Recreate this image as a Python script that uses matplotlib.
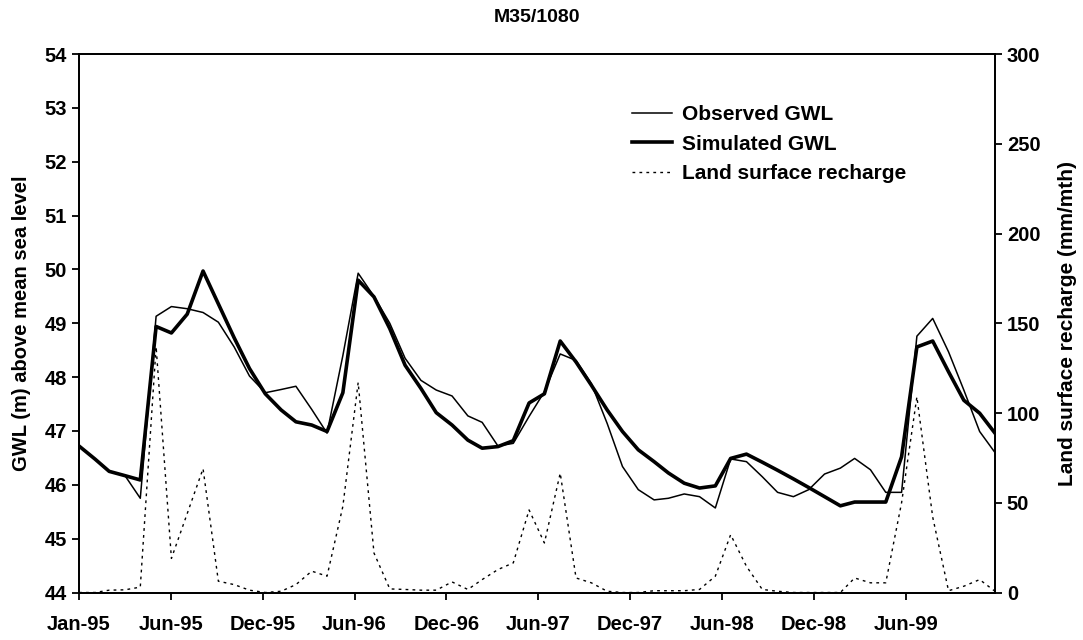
import pandas as pd
import matplotlib
matplotlib.use('Agg')
import matplotlib.pyplot as plt
import matplotlib.dates as mdates

plt.rcParams['font.family'] = ['Liberation Sans', 'DejaVu Sans']
plt.rcParams['font.weight'] = 'bold'

months = pd.date_range('1995-01-01', periods=60, freq='MS')

observed = [46.72, 46.48, 46.25, 46.17, 45.75, 49.13, 49.31, 49.27, 49.20, 49.02, 48.56, 48.02,
            47.71, 47.77, 47.83, 47.40, 46.96, 48.40, 49.93, 49.50, 49.00, 48.35, 47.94, 47.76,
            47.65, 47.28, 47.16, 46.72, 46.77, 47.27, 47.73, 48.43, 48.31, 47.88, 47.14, 46.34,
            45.91, 45.72, 45.75, 45.83, 45.78, 45.57, 46.48, 46.43, 46.15, 45.86, 45.78, 45.91,
            46.20, 46.31, 46.49, 46.28, 45.86, 45.86, 48.76, 49.09, 48.47, 47.76, 46.99, 46.60]

simulated = [46.72, 46.48, 46.25, 46.17, 46.09, 48.94, 48.82, 49.17, 49.97, 49.36, 48.73, 48.16,
             47.69, 47.39, 47.17, 47.11, 46.99, 47.71, 49.80, 49.49, 48.90, 48.22, 47.79, 47.34,
             47.11, 46.83, 46.68, 46.71, 46.82, 47.52, 47.69, 48.67, 48.28, 47.85, 47.39, 46.99,
             46.65, 46.43, 46.22, 46.03, 45.94, 45.98, 46.49, 46.57, 46.42, 46.27, 46.11, 45.95,
             45.78, 45.61, 45.68, 45.68, 45.68, 46.52, 48.56, 48.67, 48.10, 47.57, 47.33, 46.96]

recharge = [0, 0, 1.3, 1.5, 3, 137, 19, 44, 69, 6.3, 4.4, 1.3,
            0, 0.7, 4.4, 11.9, 9.1, 48, 117, 22, 2, 1.7, 1.3, 1.3,
            5.9, 1.7, 7.2, 12.8, 16.5, 46, 27.6, 66.5, 8.1, 5.4, 0.7, 0,
            0, 1, 1, 1, 1.7, 9.1, 32.2, 14.6, 1.7, 0.7, 0, 0,
            0, 0, 8.1, 5.4, 5.4, 50, 109, 42, 1, 3.5, 7.2, 0.7]

# tick marks every 180 days from the start, like the original spreadsheet axis
tick_dates = pd.date_range('1995-01-01', periods=10, freq='180D')

fig = plt.figure(figsize=(10.83, 6.4), dpi=100)
ax = fig.add_axes([0.073, 0.0742, 0.8457, 0.8414])
ax2 = ax.twinx()

l1, = ax.plot(months, observed, color='black', lw=1.1, label='Observed GWL')
l2, = ax.plot(months, simulated, color='black', lw=2.6, label='Simulated GWL')
l3, = ax2.plot(months, recharge, color='black', lw=1.0, linestyle=(0, (2, 3)),
               label='Land surface recharge')

ax.set_xlim(months[0], months[-1])
ax.set_ylim(44, 54)
ax2.set_ylim(0, 300)
ax.set_yticks(range(44, 55))
ax2.set_yticks(range(0, 301, 50))
ax.set_xticks(tick_dates)
ax.xaxis.set_major_formatter(mdates.DateFormatter('%b-%y'))

for a in (ax, ax2):
    a.tick_params(labelsize=14.5, width=1.3, length=5, direction='out')
    for s in a.spines.values():
        s.set_linewidth(1.3)
ax.tick_params(axis='x', pad=11)

ax.set_ylabel('GWL (m) above mean sea level', fontsize=14.5, fontweight='bold', labelpad=10)
ax2.set_ylabel('Land surface recharge (mm/mth)', fontsize=15, fontweight='bold', labelpad=13)
ax.set_title('M35/1080', fontsize=14, fontweight='bold', pad=23)

ax.legend(handles=[l1, l2, l3], loc='upper left', bbox_to_anchor=(0.604, 0.905),
          frameon=False, fontsize=15, handlelength=1.92, handletextpad=0.48,
          labelspacing=0.5, borderpad=0, borderaxespad=0)

fig.savefig('out.png', dpi=100)
